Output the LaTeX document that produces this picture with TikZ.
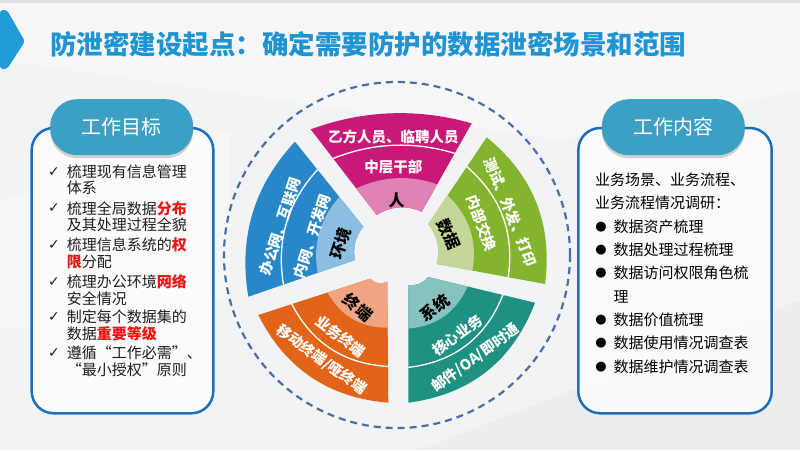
\documentclass[tikz,border=0pt]{standalone}
\usepackage{fontspec}
\setmainfont{Noto Sans CJK SC}
\newfontfamily\symfont{DejaVu Sans}
\usetikzlibrary{calc,shadows}
\definecolor{pinkD}{HTML}{C81978}
\definecolor{pinkL}{HTML}{E182B4}
\definecolor{blueD}{HTML}{2887C8}
\definecolor{blueL}{HTML}{8CBEE1}
\definecolor{greenD}{HTML}{82B42D}
\definecolor{greenL}{HTML}{C3D79B}
\definecolor{tealD}{HTML}{1E9182}
\definecolor{tealL}{HTML}{87C3BE}
\definecolor{orangeD}{HTML}{E16419}
\definecolor{orangeL}{HTML}{F0A582}
\definecolor{titleblue}{HTML}{1E94D2}
\definecolor{chevblue}{HTML}{1F9CD6}
\definecolor{pillblue}{HTML}{3CA0C4}
\definecolor{frameblue}{HTML}{1D6FBE}
\definecolor{dashblue}{HTML}{4A6EA8}
\definecolor{bggray}{HTML}{F2F3F5}
\definecolor{txtdark}{HTML}{1E1E1E}
\definecolor{hlred}{HTML}{F01414}

\newcommand{\segband}[6]{%
  \pgfmathsetmacro\hA{4/3*(#2+#4*(#3-#2))}%
  \pgfmathsetmacro\hB{4/3*(#2+#5*(#3-#2))}%
  \coordinate (La) at ($(#1P1)!#4!(#1Q1)$);%
  \coordinate (Ra) at ($(#1P2)!#4!(#1Q2)$);%
  \coordinate (Lb) at ($(#1P1)!#5!(#1Q1)$);%
  \coordinate (Rb) at ($(#1P2)!#5!(#1Q2)$);%
  \fill[#6] (La) -- (Lb)
    .. controls ($(Lb)!1/3!(Rb)!\hB pt!90:(Rb)$) and ($(Lb)!2/3!(Rb)!\hB pt!90:(Rb)$) .. (Rb)
    -- (Ra)
    .. controls ($(La)!2/3!(Ra)!\hA pt!90:(Ra)$) and ($(La)!1/3!(Ra)!\hA pt!90:(Ra)$) .. (La) -- cycle;%
}
\newcommand{\segline}[5]{%
  \pgfmathsetmacro\hC{4/3*(#2+#4*(#3-#2))}%
  \coordinate (Lc) at ($(#1P1)!#4!(#1Q1)$);%
  \coordinate (Rc) at ($(#1P2)!#4!(#1Q2)$);%
  \draw[#5] (Lc) .. controls ($(Lc)!1/3!(Rc)!\hC pt!90:(Rc)$) and ($(Lc)!2/3!(Rc)!\hC pt!90:(Rc)$) .. (Rc);%
}

\tikzset{
  wtext/.style={text=white, font=\fontsize{14.5}{15}\selectfont\bfseries, inner sep=0pt},
  ktext/.style={text=black, font=\fontsize{16}{17}\selectfont\bfseries, inner sep=0pt},
  ltext/.style={anchor=west, inner sep=0pt, text=txtdark, font=\fontsize{15}{16}\selectfont},
  rtext/.style={anchor=west, inner sep=0pt, text=black, font=\fontsize{15}{16}\selectfont},
  checkmk/.style={inner sep=0pt, text=txtdark, font=\symfont\fontsize{14}{14}\selectfont},
  bulletmk/.style={inner sep=0pt, text=black, font=\symfont\fontsize{13}{13}\selectfont},
  pill/.style={fill=pillblue, text=white, rounded corners=27pt, minimum width=143pt,
    minimum height=56pt, inner sep=0pt, font=\fontsize{20}{22}\selectfont,
    drop shadow={shadow xshift=0pt, shadow yshift=-3pt, opacity=0.35}},
  panel/.style={draw=frameblue, line width=2.5pt, fill=white, fill opacity=0.75, rounded corners=22pt},
  thinwhite/.style={white, line width=1.3pt}
}

\begin{document}
\begin{tikzpicture}[x=1pt,y=-1pt]
\useasboundingbox (0,0) rectangle (800,450);
% background
\fill[bggray] (0,0) rectangle (800,450);
\fill[white, opacity=0.4] (0,3) -- (800,3) -- (800,90) -- (560,140) -- (0,60) -- cycle;
\fill[white, opacity=0.3] (0,200) -- (230,130) -- (230,300) -- (0,330) -- cycle;
\fill[black, opacity=0.025] (420,450) -- (800,300) -- (800,450) -- cycle;
\fill[black!12] (0,0) rectangle (800,3);

% title
\fill[chevblue, rounded corners=3pt] (0,10) -- (7,10) -- (25,41.5) -- (7,69) -- (0,69) -- cycle;
\node[anchor=west, inner sep=0pt, text=titleblue, font=\fontsize{26.5}{28}\selectfont\bfseries] (title) at (50,44) {防泄密建设起点：确定需要防护的数据泄密场景和范围};

% dashed circle
\draw[dashblue, line width=2.2pt, dash pattern=on 7pt off 5pt] (397,255) circle[radius=173pt];

% segment corner coordinates
\coordinate (pinkP1) at (376.7,215);   \coordinate (pinkQ1) at (310.7,129.3);
\coordinate (pinkP2) at (421.7,211.7); \coordinate (pinkQ2) at (471.7,123.3);
\coordinate (greenP1) at (428.3,224);  \coordinate (greenQ1) at (486.7,137.3);
\coordinate (greenP2) at (436.7,264);  \coordinate (greenQ2) at (545,284);
\coordinate (tealP1) at (428,277);     \coordinate (tealQ1) at (535,302.7);
\coordinate (tealP2) at (408.3,285);   \coordinate (tealQ2) at (408.3,402.7);
\coordinate (orangeP1) at (387.3,281.7); \coordinate (orangeQ1) at (388.3,402.7);
\coordinate (orangeP2) at (370,278.7);   \coordinate (orangeQ2) at (258.3,315);
\coordinate (blueP1) at (355,260);     \coordinate (blueQ1) at (248.3,296.7);
\coordinate (blueP2) at (363.3,226.7); \coordinate (blueQ2) at (295,141.7);

% segments
\segband{pink}{6}{13}{0}{1}{pinkD}
\segband{pink}{6}{13}{0}{0.31}{pinkL}
\segline{pink}{6}{13}{0.66}{thinwhite}

\segband{green}{5}{22}{0}{1}{greenD}
\segband{green}{5}{22}{0}{0.33}{greenL}
\segline{green}{5}{22}{0.66}{thinwhite}

\segband{teal}{3}{24}{0}{1}{tealD}
\segband{teal}{3}{24}{0}{0.37}{tealL}
\segline{teal}{3}{24}{0.70}{thinwhite}

\segband{orange}{3}{22}{0}{1}{orangeD}
\segband{orange}{3}{22}{0}{0.38}{orangeL}
\segline{orange}{3}{22}{0.70}{thinwhite}

\segband{blue}{4}{20}{0}{1}{blueD}
\segband{blue}{4}{20}{0}{0.35}{blueL}
\segline{blue}{4}{20}{0.67}{thinwhite}

% wheel texts
\node[wtext] (pinkO) at (393.3,136.7) {乙方人员、临聘人员};
\node[wtext] (pinkM) at (393.3,166.7) {中层干部};
\node[ktext] (pinkI) at (396.7,200) {人};

\node[wtext, rotate=72] (blueO) at (280.5,226.7) {办公网、互联网};
\node[wtext, rotate=72] (blueM) at (312,236) {内网、开发网};
\node[ktext, rotate=72] (blueI) at (340.5,243.3) {环境};

\node[wtext, rotate=-68] (greenO) at (510.8,211.7) {测试、外发、打印};
\node[wtext, rotate=-70] (greenM) at (481.7,223.3) {内部交换};
\node[ktext, rotate=-66] (greenI) at (448.8,234.5) {数据};

\node[ktext, rotate=36] (tealI) at (435,308) {系统};
\node[wtext, rotate=36] (tealM) at (457.3,335) {核心业务};
\node[wtext, rotate=36] (tealO) at (475.5,358) {邮件/OA/即时通};

\node[ktext, rotate=-40] (orangeI) at (358,307.5) {终端};
\node[wtext, rotate=-37] (orangeM) at (340.5,336.5) {业务终端};
\node[wtext, rotate=-36] (orangeO) at (321.7,359.5) {移动终端/哑终端};

% left panel
\draw[panel] (31.7,128) rectangle (213.3,413.3);
\node[pill] (hdrL) at (121.7,127.2) {工作目标};
\node[checkmk] (c1) at (54,171.7) {✓};
\node[checkmk] (c2) at (54,208.3) {✓};
\node[checkmk] (c3) at (54,245) {✓};
\node[checkmk] (c4) at (54,281.7) {✓};
\node[checkmk] (c5) at (54,316.7) {✓};
\node[checkmk] (c6) at (54,353.3) {✓};
\node[ltext] (t1) at (66.7,171.7) {梳理现有信息管理};
\node[ltext] (t2) at (66.7,188.3) {体系};
\node[ltext] (t3) at (66.7,208.3) {梳理全局数据{\color{hlred}\bfseries 分布}};
\node[ltext] (t4) at (66.7,225) {及其处理过程全貌};
\node[ltext] (t5) at (66.7,245) {梳理信息系统的{\color{hlred}\bfseries 权}};
\node[ltext] (t6) at (66.7,261.7) {{\color{hlred}\bfseries 限}分配};
\node[ltext] (t7) at (66.7,281.7) {梳理办公环境{\color{hlred}\bfseries 网络}};
\node[ltext] (t8) at (66.7,298.3) {安全情况};
\node[ltext] (t9) at (66.7,316.7) {制定每个数据集的};
\node[ltext] (t10) at (66.7,333.3) {数据{\color{hlred}\bfseries 重要等级}};
\node[ltext] (t11) at (66.7,353.3) {遵循“工作必需”、};
\node[ltext] (t12) at (66.7,370) {“最小授权”原则};

% right panel
\draw[panel] (578.3,128) rectangle (771.7,413.3);
\node[pill] (hdrR) at (673.3,127.2) {工作内容};
\node[rtext] (r1) at (595,180) {业务场景、业务流程、};
\node[rtext] (r2) at (595,203.3) {业务流程情况调研：};
\node[bulletmk] (b1) at (601,226.7) {●};
\node[bulletmk] (b2) at (601,250) {●};
\node[bulletmk] (b3) at (601,273.3) {●};
\node[bulletmk] (b4) at (601,320) {●};
\node[bulletmk] (b5) at (601,343.3) {●};
\node[bulletmk] (b6) at (601,366.7) {●};
\node[rtext] (r3) at (613.3,226.7) {数据资产梳理};
\node[rtext] (r4) at (613.3,250) {数据处理过程梳理};
\node[rtext] (r5) at (613.3,273.3) {数据访问权限角色梳};
\node[rtext] (r6) at (613.3,296.7) {理};
\node[rtext] (r7) at (613.3,320) {数据价值梳理};
\node[rtext] (r8) at (613.3,343.3) {数据使用情况调查表};
\node[rtext] (r9) at (613.3,366.7) {数据维护情况调查表};
\end{tikzpicture}
\end{document}
